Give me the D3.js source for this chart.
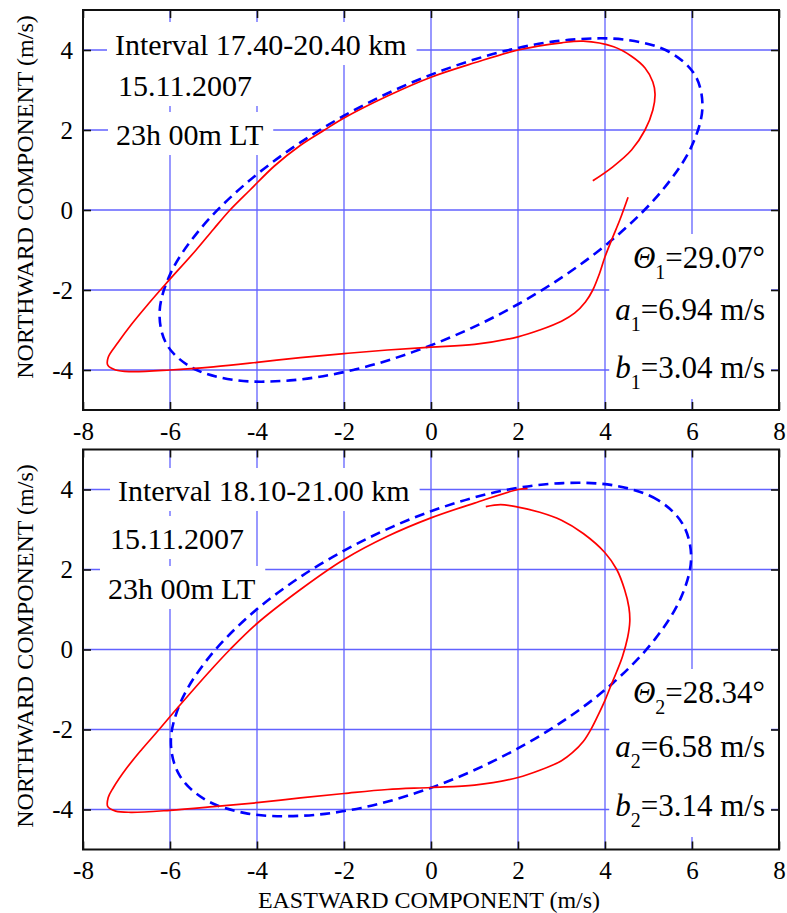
<!DOCTYPE html>
<html>
<head>
<meta charset="utf-8">
<script src="https://cdn.jsdelivr.net/npm/d3@7"></script>
<style>
  body { margin: 0; background: #fff; }
</style>
</head>
<body>
<main></main>
<script>
// axis ticks / grid
let xTicks = [-8, -6, -4, -2, 0, 2, 4, 6, 8]
let yTicks = [-4, -2, 0, 2, 4]
let gridX = [-6, -4, -2, 0, 2, 4, 6]
let gridY = [-4, -2, 0, 2, 4]

// panel 1: fitted ellipse (dashed) and hodograph (solid)
let ellipse1 = [
  [6.07, 3.37], [5.48, 3.95], [4.51, 4.25], [3.24, 4.26], [1.75, 3.99], [0.14, 3.44],
  [-1.48, 2.66], [-3.00, 1.69], [-4.31, 0.61], [-5.33, -0.51], [-5.99, -1.59], [-6.24, -2.57],
  [-6.07, -3.37], [-5.48, -3.95], [-4.51, -4.25], [-3.24, -4.26], [-1.75, -3.99], [-0.14, -3.44],
  [1.48, -2.66], [3.00, -1.69], [4.31, -0.61], [5.33, 0.51], [5.99, 1.59], [6.24, 2.57]
]
let hodo1 = [
  [4.53, 0.32], [4.34, -0.25], [4.17, -0.7], [4.0, -1.17], [3.87, -1.6], [3.72, -2.0],
  [3.55, -2.3], [3.3, -2.58], [3.0, -2.78], [2.5, -3.0], [2.0, -3.17], [1.0, -3.36],
  [0.0, -3.43], [-1.0, -3.5], [-2.0, -3.59], [-3.0, -3.69], [-4.0, -3.81], [-5.0, -3.92],
  [-6.0, -4.0], [-6.9, -4.04], [-7.25, -4.0], [-7.43, -3.88], [-7.42, -3.68], [-7.2, -3.32],
  [-6.88, -2.85], [-6.5, -2.35], [-6.1, -1.85], [-5.4, -1.0], [-5.0, -0.48], [-4.62, 0.0],
  [-4.16, 0.5], [-3.6, 1.1], [-3.0, 1.62], [-2.45, 2.0], [-2.0, 2.3], [-1.0, 2.85],
  [0.0, 3.32], [1.0, 3.68], [2.0, 4.0], [3.0, 4.18], [3.5, 4.22], [4.2, 4.08],
  [4.6, 3.85], [4.92, 3.55], [5.1, 3.2], [5.15, 2.9], [5.1, 2.5], [4.92, 2.0],
  [4.61, 1.5], [4.18, 1.08], [3.72, 0.73]
]
let info1 = ['Interval 17.40-20.40 km', '15.11.2007', '23h 00m LT']
let params1 = [['\u0398', '1', '=29.07\u00b0'], ['a', '1', '=6.94 m/s'], ['b', '1', '=3.04 m/s']]

// panel 2
let ellipse2 = [
  [5.79, 3.13], [5.21, 3.74], [4.27, 4.09], [3.04, 4.16], [1.60, 3.96], [0.06, 3.48],
  [-1.49, 2.76], [-2.94, 1.86], [-4.19, 0.83], [-5.15, -0.26], [-5.76, -1.33], [-5.98, -2.30],
  [-5.79, -3.13], [-5.21, -3.74], [-4.27, -4.09], [-3.04, -4.16], [-1.60, -3.96], [-0.06, -3.48],
  [1.49, -2.76], [2.94, -1.86], [4.19, -0.83], [5.15, 0.26], [5.76, 1.33], [5.98, 2.30]
]
let hodo2 = [
  [1.26, 3.57], [1.6, 3.62], [2.0, 3.56], [2.5, 3.43], [3.0, 3.23], [3.5, 2.9],
  [4.0, 2.42], [4.27, 2.0], [4.45, 1.5], [4.55, 1.05], [4.57, 0.7], [4.52, 0.3],
  [4.4, -0.18], [4.27, -0.55], [4.13, -0.92], [4.0, -1.27], [3.85, -1.62], [3.69, -1.97],
  [3.5, -2.3], [3.25, -2.58], [3.0, -2.78], [2.5, -3.02], [2.0, -3.2], [1.0, -3.39],
  [0.0, -3.45], [-1.0, -3.5], [-2.0, -3.6], [-3.0, -3.71], [-4.0, -3.83], [-5.0, -3.93],
  [-6.0, -4.02], [-6.9, -4.07], [-7.25, -4.04], [-7.43, -3.93], [-7.42, -3.7], [-7.3, -3.45],
  [-7.0, -2.97], [-6.65, -2.5], [-6.25, -2.0], [-5.9, -1.55], [-5.5, -1.05], [-5.05, -0.5],
  [-4.62, 0.0], [-4.0, 0.65], [-3.0, 1.5], [-2.0, 2.25], [-1.0, 2.83], [0.0, 3.29],
  [1.0, 3.66], [2.0, 4.0], [2.22, 4.02]
]
let info2 = ['Interval 18.10-21.00 km', '15.11.2007', '23h 00m LT']
let params2 = [['\u0398', '2', '=28.34\u00b0'], ['a', '2', '=6.58 m/s'], ['b', '2', '=3.14 m/s']]

// pick the first serif font that is actually installed
function pickFont(list)
{
    let c = document.createElement('canvas').getContext('2d')
    let s = 'Interval 17.40 mwWiI'
    c.font = '40px monospace'
    let base = c.measureText(s).width
    for (let f of list) {
        c.font = `40px "${f}", monospace`
        if (Math.abs(c.measureText(s).width - base) > 0.5) return `"${f}"`
    }
    return 'serif'
}
let FONT = pickFont(['Liberation Serif', 'Tinos', 'Times New Roman', 'Times', 'Nimbus Roman', 'Noto Serif', 'DejaVu Serif'])

let svg = d3.select('main').append('svg')
    .attr('width', 787)
    .attr('height', 913)
    .style('display', 'block')
    .style('background', '#fff')
    .style('font-family', FONT)

function panel(top, ellipse, hodo, info, infoPos, params, paramY, titleY)
{
    let x = d3.scaleLinear().domain([-8, 8]).range([83, 779])
    let y = d3.scaleLinear().domain([-5, 5]).range([top + 400, top])
    let g = svg.append('g')

    // grid
    g.append('g').selectAll('line').data(gridX).join('line')
        .attr('x1', d => x(d)).attr('x2', d => x(d))
        .attr('y1', y(5)).attr('y2', y(-5))
        .attr('stroke', '#6262ff').attr('stroke-width', 1.3)
    g.append('g').selectAll('line').data(gridY).join('line')
        .attr('x1', x(-8)).attr('x2', x(8))
        .attr('y1', d => y(d)).attr('y2', d => y(d))
        .attr('stroke', '#6262ff').attr('stroke-width', 1.3)

    // text with white boxes behind
    let boxes = g.append('g')
    let texts = g.append('g')
    info.forEach((s, i) => {
        let t = texts.append('text')
            .attr('x', infoPos[i][0]).attr('y', infoPos[i][1])
            .style('font-size', '30px')
            .text(s)
        let b = t.node().getBBox()
        boxes.append('rect')
            .attr('x', b.x - 8).attr('y', b.y - 6)
            .attr('width', b.width + 18).attr('height', b.height + 10)
            .attr('fill', '#fff')
    })
    let pg = texts.append('g')
    params.forEach((p, i) => {
        let t = pg.append('text')
            .attr('x', 765).attr('y', paramY[i])
            .attr('text-anchor', 'end')
            .style('font-size', '31px')
        t.append('tspan').style('font-style', 'italic').text(p[0])
        t.append('tspan').attr('dy', 11).style('font-size', '20px').text(p[1])
        t.append('tspan').attr('dy', -11).text(p[2])
    })
    let pb = pg.node().getBBox()
    boxes.append('rect')
        .attr('x', pb.x - 6).attr('y', pb.y - 6)
        .attr('width', 771 - pb.x + 6).attr('height', pb.height + 12)
        .attr('fill', '#fff')

    // curves
    let line = d3.line().x(d => x(d[0])).y(d => y(d[1]))
    g.append('path')
        .attr('d', line.curve(d3.curveCatmullRomClosed)(ellipse))
        .attr('fill', 'none')
        .attr('stroke', '#0000ff')
        .attr('stroke-width', 2.6)
        .attr('stroke-dasharray', '10,6')
    g.append('path')
        .attr('d', line.curve(d3.curveCatmullRom)(hodo))
        .attr('fill', 'none')
        .attr('stroke', '#ff0000')
        .attr('stroke-width', 1.7)
    texts.raise()

    // axes, ticks pointing in
    let fmt = d => String(d)
    g.append('g').attr('transform', `translate(0,${y(-5)})`)
        .call(d3.axisBottom(x).tickValues(xTicks).tickSizeInner(-8).tickSizeOuter(0).tickPadding(12).tickFormat(fmt))
    g.append('g').attr('transform', `translate(${x(-8)},0)`)
        .call(d3.axisLeft(y).tickValues(yTicks).tickSizeInner(-8).tickSizeOuter(0).tickPadding(10).tickFormat(fmt))
    g.append('g').attr('transform', `translate(0,${y(5)})`)
        .call(d3.axisTop(x).tickValues(xTicks).tickSizeInner(-8).tickSizeOuter(0).tickFormat(''))
    g.append('g').attr('transform', `translate(${x(8)},0)`)
        .call(d3.axisRight(y).tickValues(yTicks).tickSizeInner(-8).tickSizeOuter(0).tickFormat(''))
    g.selectAll('.domain').remove()
    g.selectAll('.tick line').attr('stroke', '#111').attr('stroke-width', 1.6)
    g.selectAll('.tick text')
        .style('font-family', FONT)
        .style('font-size', '25px')
        .attr('fill', '#000')

    // frame
    g.append('rect')
        .attr('x', x(-8)).attr('y', y(5))
        .attr('width', x(8) - x(-8)).attr('height', y(-5) - y(5))
        .attr('fill', 'none')
        .attr('stroke', '#111')
        .attr('stroke-width', 2)

    // y title
    g.append('text')
        .attr('transform', `translate(33,${titleY}) rotate(-90)`)
        .attr('text-anchor', 'middle')
        .style('font-size', '24px')
        .text('NORTHWARD COMPONENT (m/s)')
}

panel(10, ellipse1, hodo1, info1, [[115, 55], [118, 96], [116, 145]], params1, [268, 320, 378], 197)
panel(449.5, ellipse2, hodo2, info2, [[118, 501], [110, 549], [108, 599]], params2, [703, 757, 816], 646)

svg.append('text')
    .attr('x', 429).attr('y', 908)
    .attr('text-anchor', 'middle')
    .style('font-size', '24px')
    .text('EASTWARD COMPONENT (m/s)')
</script>
</body>
</html>
